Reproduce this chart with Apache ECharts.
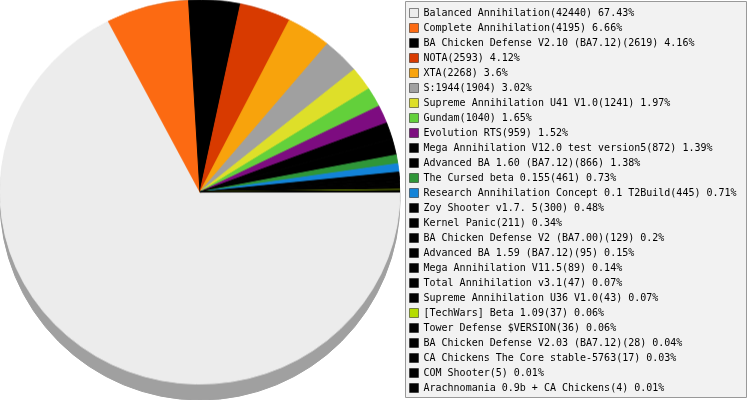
<!DOCTYPE html>
<html>
<head>
<meta charset="utf-8">
<script src="https://cdn.jsdelivr.net/npm/echarts@6/dist/echarts.min.js"></script>
<style>
  html, body { margin: 0; padding: 0; background: #fff; overflow: hidden; }
  #wrap { position: relative; width: 749px; height: 400px; }
  #base { position: absolute; left: 0; top: 0; width: 749px; height: 400px; }
  /* the pie face is squashed a little to get the tilted 3d look */
  #face { position: absolute; left: 0; top: -20px; width: 400px; height: 440px;
          transform: scaleY(0.96); transform-origin: 0 212px; }
</style>
</head>
<body>
<div id="wrap">
  <div id="base"></div>
  <div id="face"></div>
</div>
<script>
const names = [
  'Balanced Annihilation',
  'Complete Annihilation',
  'BA Chicken Defense V2.10 (BA7.12)',
  'NOTA',
  'XTA',
  'S:1944',
  'Supreme Annihilation U41 V1.0',
  'Gundam',
  'Evolution RTS',
  'Mega Annihilation V12.0 test version5',
  'Advanced BA 1.60 (BA7.12)',
  'The Cursed beta 0.155',
  'Research Annihilation Concept 0.1 T2Build',
  'Zoy Shooter v1.7. 5',
  'Kernel Panic',
  'BA Chicken Defense V2 (BA7.00)',
  'Advanced BA 1.59 (BA7.12)',
  'Mega Annihilation V11.5',
  'Total Annihilation v3.1',
  'Supreme Annihilation U36 V1.0',
  '[TechWars] Beta 1.09',
  'Tower Defense $VERSION',
  'BA Chicken Defense V2.03 (BA7.12)',
  'CA Chickens The Core stable-5763',
  'COM Shooter',
  'Arachnomania 0.9b + CA Chickens'
]
const values = [42440, 4195, 2619, 2593, 2268, 1904, 1241, 1040, 959, 872, 866, 461, 445,
  300, 211, 129, 95, 89, 47, 43, 37, 36, 28, 17, 5, 4]
const colors = [
  '#ececec', '#fc6a12', '#000000', '#d83a00', '#f8a30c', '#a0a0a0', '#dedf29',
  '#63d03b', '#7d0c80', '#000000', '#000000', '#2f9638', '#1283d8',
  '#000000', '#000000', '#000000', '#000000', '#000000', '#000000', '#000000',
  '#b5dc00', '#000000', '#000000', '#000000', '#000000', '#000000'
]
const depthColor = '#a0a0a0'

const total = values.reduce((a, b) => a + b, 0)
const pct = v => Number((v / total * 100).toFixed(2))

// base: depth of the pie + legend box
const base = echarts.init(document.getElementById('base'))
base.setOption({
  animation: false,
  graphic: [{
    type: 'rect',
    shape: { x: 405.5, y: 1.5, width: 341, height: 396 },
    style: { fill: '#f2f2f2', stroke: '#999', lineWidth: 1 },
    z: 0
  }],
  legend: {
    orient: 'vertical',
    left: 409,
    top: 8,
    padding: 0,
    itemWidth: 9,
    itemHeight: 9,
    itemGap: 5,
    icon: 'rect',
    selectedMode: false,
    textStyle: { fontFamily: 'DejaVu Sans Mono', fontSize: 10, color: '#000', lineHeight: 10 },
    formatter: name => {
      const i = names.indexOf(name)
      return name + '(' + values[i] + ') ' + pct(values[i]) + '%'
    },
    data: names.map((n, i) => ({
      name: n,
      itemStyle: { color: colors[i], borderColor: 'rgba(0,0,0,0.45)', borderWidth: 1 }
    }))
  },
  series: [{
    type: 'pie',
    center: [200, 200],
    radius: 200,
    startAngle: 0,
    silent: true,
    label: { show: false },
    labelLine: { show: false },
    itemStyle: { color: depthColor, borderColor: depthColor, borderWidth: 1 },
    data: names.map((n, i) => ({ name: n, value: values[i] }))
  }]
})

// face of the pie
const face = echarts.init(document.getElementById('face'), null, { renderer: 'svg' })
face.setOption({
  animation: false,
  series: [{
    type: 'pie',
    center: [200, 212],
    radius: 200,
    startAngle: 0,
    clockwise: true,
    silent: true,
    label: { show: false },
    labelLine: { show: false },
    data: names.map((n, i) => ({
      name: n,
      value: values[i],
      itemStyle: { color: colors[i], borderColor: colors[i], borderWidth: 1 }
    }))
  }]
})
</script>
</body>
</html>
